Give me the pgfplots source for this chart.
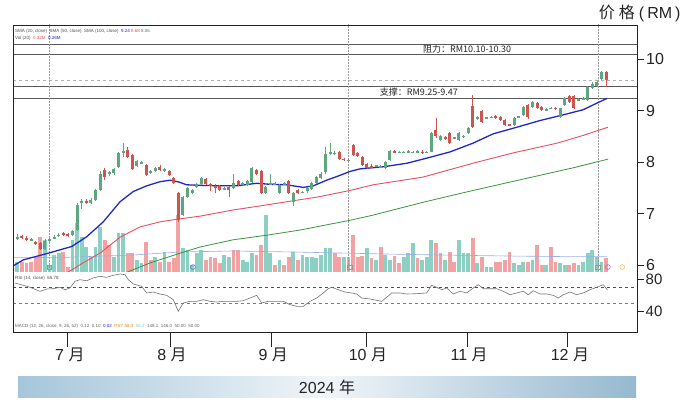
\documentclass[border=0pt]{standalone}
\usepackage{fontspec}
\setmainfont{Liberation Sans}
\newfontfamily\cjk{Noto Sans CJK SC}
\usepackage{pgfplots}
\usepackage{pgfplotstable}
\pgfplotsset{compat=1.18}
\definecolor{cgreen}{RGB}{95,165,125}
\definecolor{cred}{RGB}{205,85,80}
\definecolor{vgreen}{RGB}{140,208,196}
\definecolor{vred}{RGB}{242,162,162}
\definecolor{mablue}{RGB}{30,40,200}
\definecolor{mared}{RGB}{228,80,95}
\definecolor{magreen}{RGB}{55,150,60}
\definecolor{vma}{RGB}{150,175,230}
\definecolor{txt}{RGB}{35,35,35}
\definecolor{bannerL}{RGB}{165,198,218}
\definecolor{bannerM}{RGB}{240,245,249}
\definecolor{bannerR}{RGB}{150,185,207}

\pgfplotstableread{
i o h l c
0 6.52 6.60 6.48 6.55
1 6.56 6.58 6.50 6.52
2 6.53 6.56 6.47 6.50
3 6.49 6.52 6.46 6.49
4 6.45 6.47 6.38 6.41
5 6.42 6.44 6.30 6.32
6 6.32 6.50 6.30 6.47
7 6.48 6.54 6.45 6.51
8 6.52 6.58 6.50 6.55
9 6.56 6.62 6.54 6.59
10 6.62 6.64 6.57 6.60
11 6.60 6.62 6.54 6.56
12 6.58 6.68 6.56 6.66
13 6.68 7.20 6.66 7.17
14 7.20 7.28 7.08 7.24
15 7.25 7.28 7.18 7.21
16 7.21 7.30 7.18 7.27
17 7.26 7.48 7.24 7.46
18 7.46 7.82 7.44 7.78
19 7.85 7.88 7.65 7.72
20 7.78 7.83 7.74 7.80
21 7.79 7.88 7.76 7.86
22 7.91 8.20 7.88 8.17
23 8.18 8.37 8.10 8.22
24 8.24 8.30 8.08 8.11
25 8.14 8.16 7.84 7.86
26 7.92 8.05 7.90 8.02
27 7.99 8.02 7.96 7.99
28 7.95 7.97 7.73 7.75
29 7.80 7.84 7.78 7.82
30 7.83 7.90 7.80 7.88
31 7.90 7.95 7.83 7.85
32 7.82 7.88 7.80 7.86
33 7.82 7.84 7.74 7.76
34 7.70 7.72 7.58 7.60
35 7.40 7.42 6.84 6.88
36 6.97 7.35 6.95 7.33
37 7.33 7.52 7.30 7.50
38 7.40 7.48 7.38 7.45
39 7.52 7.60 7.50 7.58
40 7.58 7.72 7.56 7.70
41 7.68 7.70 7.55 7.57
42 7.57 7.59 7.43 7.56
43 7.54 7.57 7.40 7.50
44 7.53 7.55 7.44 7.46
45 7.48 7.51 7.46 7.49
46 7.52 7.54 7.33 7.46
47 7.49 7.78 7.47 7.59
48 7.63 7.65 7.53 7.55
49 7.58 7.61 7.56 7.59
50 7.56 7.65 7.54 7.63
51 7.62 7.90 7.60 7.88
52 7.85 7.87 7.76 7.78
53 7.82 7.84 7.38 7.40
54 7.40 7.54 7.38 7.52
55 7.58 7.78 7.56 7.59
56 7.57 7.61 7.55 7.58
57 7.40 7.58 7.38 7.56
58 7.58 7.61 7.56 7.59
59 7.63 7.65 7.38 7.40
60 7.23 7.42 7.14 7.40
61 7.46 7.48 7.38 7.40
62 7.41 7.44 7.40 7.42
63 7.43 7.51 7.41 7.49
64 7.48 7.61 7.46 7.59
65 7.60 7.74 7.58 7.72
66 7.70 7.80 7.68 7.78
67 7.80 8.30 7.78 8.16
68 8.16 8.38 8.14 8.20
69 8.17 8.21 8.14 8.17
70 8.20 8.22 8.05 8.07
71 8.06 8.09 8.03 8.05
72 8.04 8.07 8.02 8.04
73 8.33 8.36 8.12 8.14
74 8.18 8.20 8.10 8.13
75 8.11 8.13 7.93 7.95
76 7.97 7.99 7.86 7.89
77 7.92 7.96 7.88 7.90
78 7.93 7.95 7.91 7.93
79 7.90 7.94 7.88 7.92
80 7.89 8.03 7.87 8.01
81 8.04 8.24 8.02 8.22
82 8.21 8.23 8.18 8.20
83 8.19 8.22 8.17 8.19
84 8.19 8.21 8.17 8.19
85 8.20 8.23 8.18 8.20
86 8.19 8.21 8.17 8.19
87 8.20 8.23 8.18 8.20
88 8.20 8.24 8.16 8.19
89 8.19 8.22 8.18 8.20
90 8.20 8.58 8.19 8.56
91 8.63 8.86 8.48 8.50
92 8.43 8.53 8.41 8.51
93 8.48 8.50 8.44 8.46
94 8.57 8.59 8.36 8.38
95 8.47 8.49 8.45 8.47
96 8.43 8.58 8.41 8.56
97 8.50 8.52 8.48 8.50
98 8.57 8.69 8.55 8.67
99 9.09 9.30 8.67 8.69
100 8.86 8.89 8.83 8.86
101 9.00 9.02 8.77 8.79
102 8.86 8.88 8.84 8.86
103 8.87 8.89 8.85 8.88
104 8.90 8.92 8.84 8.86
105 8.88 8.90 8.80 8.82
106 8.82 8.84 8.70 8.72
107 8.73 8.75 8.70 8.72
108 8.72 8.87 8.70 8.86
109 8.88 8.90 8.86 8.88
110 8.92 9.09 8.90 9.08
111 9.11 9.13 8.84 8.88
112 9.08 9.20 9.06 9.18
113 9.15 9.17 9.03 9.05
114 9.08 9.10 9.00 9.02
115 9.02 9.05 9.00 9.03
116 9.05 9.07 9.03 9.05
117 9.05 9.07 9.02 9.04
118 8.88 9.06 8.86 9.05
119 9.11 9.26 9.09 9.24
120 9.28 9.30 9.16 9.18
121 9.28 9.30 9.04 9.06
122 9.21 9.24 9.19 9.22
123 9.23 9.26 9.21 9.24
124 9.21 9.49 9.19 9.47
125 9.45 9.56 9.43 9.53
126 9.48 9.58 9.46 9.56
127 9.62 9.78 9.60 9.76
128 9.76 9.78 9.47 9.60
}\candles

\pgfplotstableread{
i v d
0 1.0 1
1 1.0 0
2 0.9 0
3 1.0 0
4 1.4 0
5 3.5 0
6 3.2 1
7 0.7 1
8 1.7 1
9 1.9 1
10 2.0 0
11 0.5 0
12 3.2 1
13 4.9 1
14 3.5 1
15 2.5 1
16 1.5 1
17 2.5 1
18 4.5 1
19 3.2 0
20 2.7 0
21 1.5 1
22 3.9 1
23 3.9 1
24 1.9 0
25 1.9 0
26 1.2 1
27 0.9 1
28 3.0 0
29 1.2 0
30 1.5 1
31 1.0 0
32 2.0 1
33 1.0 0
34 1.4 0
35 5.7 0
36 2.4 1
37 2.2 1
38 0.7 1
39 1.9 1
40 2.2 1
41 1.2 0
42 1.5 0
43 1.4 0
44 0.9 0
45 1.7 1
46 1.5 1
47 2.2 0
48 2.2 0
49 1.2 1
50 1.0 1
51 1.9 1
52 1.7 0
53 2.7 0
54 5.7 1
55 1.9 1
56 0.7 0
57 1.2 1
58 0.7 0
59 1.5 0
60 2.0 1
61 1.2 0
62 1.7 1
63 1.5 1
64 1.5 1
65 1.4 1
66 1.7 1
67 2.4 1
68 2.4 1
69 1.9 0
70 1.5 0
71 1.5 1
72 1.5 0
73 3.7 0
74 1.5 0
75 1.6 0
76 2.4 1
77 1.4 0
78 1.2 1
79 2.5 0
80 1.7 1
81 1.2 1
82 1.6 0
83 0.9 0
84 1.5 1
85 1.9 1
86 2.9 1
87 1.4 0
88 1.2 1
89 1.5 1
90 3.2 1
91 2.9 0
92 1.9 0
93 1.2 1
94 2.0 0
95 1.0 0
96 3.2 1
97 1.9 1
98 1.9 1
99 3.4 0
100 0.9 1
101 1.5 0
102 0.5 1
103 0.5 1
104 1.0 0
105 1.0 0
106 1.2 0
107 2.0 0
108 0.9 1
109 0.7 1
110 1.0 1
111 1.0 0
112 1.2 1
113 2.7 0
114 0.7 0
115 0.7 1
116 2.5 0
117 1.0 0
118 0.9 1
119 0.7 1
120 0.7 0
121 0.9 0
122 0.7 1
123 1.0 1
124 1.9 1
125 2.2 1
126 1.5 1
127 1.0 1
128 1.4 0
}\vol

\pgfplotstableread{
i v
-0.93 1.43
10.7 1.47
25.2 1.70
35.4 2.00
46.9 2.10
60.0 2.00
70.0 1.90
80.0 1.80
92.0 1.70
106.5 1.60
120.8 1.53
128.2 1.53
}\volma

\pgfplotstableread{
i p
-0.93 5.98
1.30 6.10
6.74 6.23
11.83 6.36
15.09 6.55
18.70 6.84
22.33 7.23
25.22 7.43
28.13 7.54
31.02 7.62
33.20 7.65
34.93 7.62
36.83 7.56
39.72 7.55
44.07 7.54
47.70 7.54
52.04 7.59
54.93 7.57
58.57 7.56
62.17 7.51
64.35 7.54
67.26 7.65
69.43 7.72
72.33 7.82
74.50 7.87
79.50 7.91
84.72 7.98
89.07 8.08
94.07 8.20
99.07 8.37
103.41 8.55
108.20 8.67
113.63 8.81
118.63 8.92
123.00 9.02
126.02 9.15
128.20 9.24
}\maA

\pgfplotstableread{
i p
11.02 5.86
14.28 6.04
17.98 6.23
22.33 6.54
26.67 6.74
31.02 6.84
34.72 6.89
39.72 6.95
46.89 7.07
54.28 7.17
59.93 7.25
65.15 7.32
72.33 7.45
77.33 7.56
88.20 7.71
99.07 7.98
107.76 8.18
117.33 8.37
122.97 8.52
128.41 8.68
}\maB

\pgfplotstableread{
i p
23.85 5.86
28.85 6.04
34.72 6.21
39.72 6.35
46.89 6.49
54.28 6.58
61.46 6.68
72.33 6.87
77.33 6.97
88.20 7.22
99.07 7.45
109.93 7.67
120.80 7.89
128.41 8.06
}\maC

\pgfplotstableread{
i r
-0.50 75.8
1.30 72.9
2.76 70.4
4.93 65.3
6.39 68.2
7.83 68.6
9.28 70.4
10.37 67.3
11.46 69.5
12.54 78.0
13.63 80.0
15.09 78.7
16.52 82.2
17.98 84.3
19.43 83.0
20.87 85.6
22.33 87.2
23.41 86.3
24.13 80.0
25.22 74.6
27.04 71.6
28.13 63.2
29.57 64.4
31.02 61.9
32.48 60.2
33.91 54.7
35.00 40.0
36.09 50.5
37.54 52.6
39.00 52.6
40.43 54.7
41.89 52.6
43.35 51.8
44.78 52.6
46.24 52.6
47.70 52.6
49.13 53.4
50.59 56.8
52.04 60.2
53.13 50.5
54.57 52.6
56.39 52.6
57.83 52.6
59.28 48.4
60.74 46.3
62.17 46.3
63.63 52.6
65.09 56.8
66.52 63.2
67.61 68.6
68.35 70.4
69.78 67.3
71.24 64.4
72.70 63.2
73.78 61.9
74.87 56.8
76.67 55.6
78.13 53.9
79.22 52.6
80.30 57.7
81.39 63.2
83.20 63.2
84.65 61.9
86.83 62.3
89.00 63.2
90.09 72.9
91.17 70.4
92.26 67.3
93.35 69.5
94.78 61.9
96.24 65.3
97.70 63.2
99.13 69.5
100.22 73.7
101.30 68.6
102.76 68.6
104.22 68.6
105.65 65.3
107.11 61.0
108.57 63.2
110.00 65.3
111.09 61.0
112.17 66.1
113.63 61.9
115.09 61.9
116.52 60.2
117.61 56.8
118.70 61.0
120.15 64.4
121.61 61.0
123.04 63.2
124.50 67.3
125.96 70.4
127.39 73.7
128.26 67.3
}\rsi

\begin{document}
\begin{tikzpicture}[x=1pt,y=1pt]
\useasboundingbox (0,0) rectangle (690,403);

% bottom banner
\shade[left color=bannerL, right color=bannerR, middle color=bannerM] (18,5) rectangle (636,26);
\node[font=\fontsize{16}{18}\selectfont, text=txt] at (327,15.5) {2024 {\cjk 年}};
\node[font=\fontsize{16}{18}\selectfont, text=txt, anchor=east] at (684,390) {{\cjk 价\hspace{4pt}格}\hspace{4pt}(\hspace{3pt}RM\hspace{3pt})};

% volume
\begin{axis}[at={(13pt,131pt)}, anchor=south west, scale only axis,
  width=624pt, height=247pt, xmin=-0.93, xmax=134.72, ymin=0, ymax=24.7,
  hide axis, clip=true]
\addplot[ycomb, draw=vgreen, line width=3.8pt, restrict expr to domain={\thisrow{d}}{0.5:1.5}] table[x=i,y=v]{\vol};
\addplot[ycomb, draw=vred, line width=3.8pt, restrict expr to domain={\thisrow{d}}{-0.5:0.5}] table[x=i,y=v]{\vol};
\addplot[vma, line width=0.6pt] table[x=i,y=v]{\volma};
\end{axis}

% price
\begin{axis}[at={(13pt,131pt)}, anchor=south west, scale only axis,
  width=624pt, height=247pt, xmin=-0.93, xmax=134.72, ymin=5.864, ymax=10.669,
  axis line style={draw=none}, xtick=\empty, ytick={6,7,8,9,10},
  ytick pos=right, tick align=outside, major tick length=7pt,
  tick style={txt, line width=0.8pt},
  yticklabel style={font=\fontsize{16}{17}\selectfont, text=txt, inner sep=2pt},
  /pgf/number format/assume math mode=true, clip=true]
\addplot[txt!75, line width=0.7pt] coordinates {(-1,10.30) (136,10.30)};
\addplot[txt!75, line width=0.7pt] coordinates {(-1,10.10) (136,10.10)};
\addplot[txt!75, line width=0.7pt] coordinates {(-1,9.47) (136,9.47)};
\addplot[txt!75, line width=0.7pt] coordinates {(-1,9.25) (136,9.25)};
\addplot[gray!60, dashed, line width=0.5pt] coordinates {(-1,9.60) (136,9.60)};
\addplot[gray!80, densely dotted, line width=0.5pt] coordinates {(6.9,5.8) (6.9,10.7)};
\addplot[gray!80, densely dotted, line width=0.5pt] coordinates {(71.9,5.8) (71.9,10.7)};
\addplot[gray!80, densely dotted, line width=0.5pt] coordinates {(126.2,5.8) (126.2,10.7)};
\addplot[magreen, line width=0.8pt] table[x=i,y=p]{\maC};
\addplot[mared, line width=0.9pt] table[x=i,y=p]{\maB};
\addplot[mablue, line width=1.3pt] table[x=i,y=p]{\maA};
% wicks
\addplot[draw=none, mark=none, restrict expr to domain={\thisrow{c}-\thisrow{o}}{0:10},
  error bars/.cd, y dir=both, y explicit, error mark=none,
  error bar style={draw=cgreen, line width=0.6pt}]
  table[x=i, y expr={(\thisrow{h}+\thisrow{l})/2}, y error expr={(\thisrow{h}-\thisrow{l})/2}]{\candles};
\addplot[draw=none, mark=none, restrict expr to domain={\thisrow{c}-\thisrow{o}}{-10:-0.001},
  error bars/.cd, y dir=both, y explicit, error mark=none,
  error bar style={draw=cred, line width=0.6pt}]
  table[x=i, y expr={(\thisrow{h}+\thisrow{l})/2}, y error expr={(\thisrow{h}-\thisrow{l})/2}]{\candles};
% bodies
\addplot[draw=none, mark=none, restrict expr to domain={\thisrow{c}-\thisrow{o}}{0:10},
  error bars/.cd, y dir=both, y explicit, error mark=none,
  error bar style={draw=cgreen, line width=3pt}]
  table[x=i, y expr={(\thisrow{o}+\thisrow{c})/2}, y error expr={max(abs(\thisrow{c}-\thisrow{o})/2,0.012)}]{\candles};
\addplot[draw=none, mark=none, restrict expr to domain={\thisrow{c}-\thisrow{o}}{-10:-0.001},
  error bars/.cd, y dir=both, y explicit, error mark=none,
  error bar style={draw=cred, line width=3pt}]
  table[x=i, y expr={(\thisrow{o}+\thisrow{c})/2}, y error expr={max(abs(\thisrow{c}-\thisrow{o})/2,0.012)}]{\candles};
% event markers
\addplot[only marks, mark=square, mark size=2.2pt, draw=gray!80, line width=0.5pt] coordinates {(6.9,5.96) (72.3,5.96) (126.2,5.96)};
\addplot[only marks, mark=o, mark size=2.4pt, draw={rgb,255:red,80;green,120;blue,220}, line width=0.6pt] coordinates {(38.2,5.96)};
\addplot[only marks, mark=o, mark size=2.4pt, draw={rgb,255:red,170;green,100;blue,210}, line width=0.6pt] coordinates {(128.4,5.96)};
\addplot[only marks, mark=o, mark size=2.4pt, draw={rgb,255:red,240;green,190;blue,80}, line width=0.6pt] coordinates {(131.5,5.96)};
% labels
\node[font={\cjk\fontsize{9}{10}\selectfont}, text=txt] at (axis cs:97.8,10.20) {阻力：RM10.10-10.30};
\node[font={\cjk\fontsize{9}{10}\selectfont}, text=txt] at (axis cs:87.3,9.36) {支撑：RM9.25-9.47};
\node[font=\fontsize{4.5}{5}\selectfont, text=txt!80, anchor=west, inner sep=0pt] at (rel axis cs:0.003,0.976) {SMA (20, close)\ \ SMA (50, close)\ \ SMA (100, close)\ \ \textcolor{mablue}{9.24}\ \textcolor{mared}{8.68}\ \textcolor{magreen}{8.06}};
\node[font=\fontsize{4.5}{5}\selectfont, text=txt!80, anchor=west, inner sep=0pt] at (rel axis cs:0.003,0.947) {Vol (20)\ \ \textcolor{mared}{0.32M}\ \ \textcolor{mablue}{0.26M}};
\end{axis}

% RSI
\begin{axis}[at={(13pt,71pt)}, anchor=south west, scale only axis,
  width=624pt, height=60pt, xmin=-0.93, xmax=134.72, ymin=13.8, ymax=89.75,
  axis line style={draw=none}, xtick=\empty, ytick={40,80},
  ytick pos=right, tick align=outside, major tick length=7pt,
  tick style={txt, line width=0.8pt},
  yticklabel style={font=\fontsize{15}{16}\selectfont, text=txt, inner sep=1.5pt},
  /pgf/number format/assume math mode=true, clip=true]
\addplot[txt!80, dashed, line width=0.6pt] coordinates {(-1,70) (136,70)};
\addplot[txt!60, dashed, line width=0.6pt] coordinates {(-1,50) (136,50)};
\addplot[gray!90!black, line width=0.6pt] table[x=i,y=r]{\rsi};
\node[font=\fontsize{4.5}{5}\selectfont, text=txt!80, anchor=west, inner sep=0pt] at (rel axis cs:0.003,0.9) {RSI (14, close)\ \ 65.78};
\node[font=\fontsize{4.5}{5}\selectfont, text=txt!70, anchor=west, inner sep=0pt] at (rel axis cs:0.003,0.1) {MACD (12, 26, close, 9, 26, 52)\ \ 0.12\ \ 0.10\ \ \textcolor{mablue}{0.02}\ \ \textcolor{orange}{PSY 58.3}\ \ \textcolor{vgreen}{56.2}\ \ 148.1\ \ 146.0\ \ 50.00\ \ 50.00};
\end{axis}

% month ticks
\begin{axis}[at={(13pt,71pt)}, anchor=south west, scale only axis,
  width=624pt, height=60pt, xmin=-0.93, xmax=134.72, ymin=0, ymax=1,
  hide y axis, axis line style={draw=none},
  xtick={11.0,33.2,55.2,75.8,97.8,119.7},
  xticklabels={7 {\cjk 月}, 8 {\cjk 月}, 9 {\cjk 月}, 10 {\cjk 月}, 11 {\cjk 月}, 12 {\cjk 月}},
  xtick pos=bottom, tick align=outside, major tick length=15pt,
  tick style={txt, line width=0.9pt},
  xticklabel style={font=\fontsize{16}{18}\selectfont, text=txt, inner sep=1pt, xshift=2pt}]
\addplot[draw=none] coordinates {(0,0.5)};
\end{axis}

\draw[txt, line width=0.9pt] (13,71) rectangle (637,378);
\end{tikzpicture}
\end{document}
